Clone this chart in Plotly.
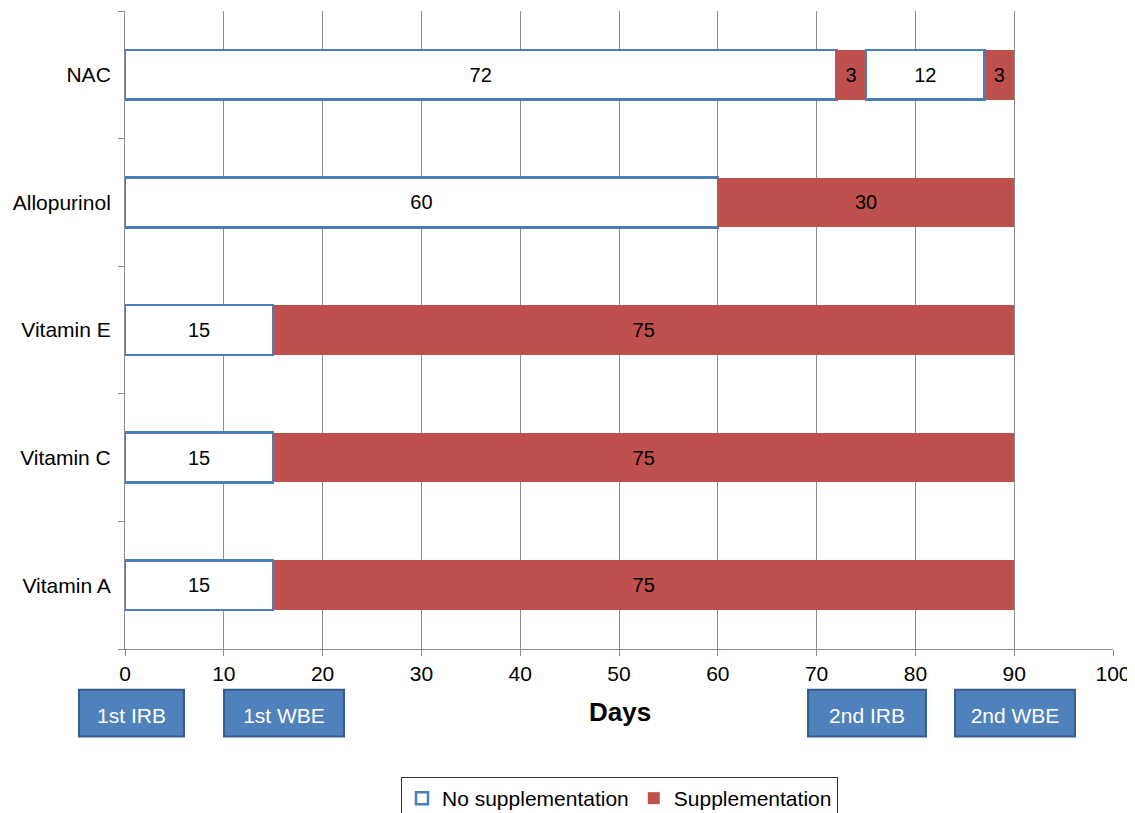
import plotly.graph_objects as go

categories = ["Vitamin A", "Vitamin C", "Vitamin E", "Allopurinol", "NAC"]
no_supp_1 = [15, 15, 15, 60, 72]
supp_1 = [75, 75, 75, 30, 3]
no_supp_2 = [None, None, None, None, 12]
supp_2 = [None, None, None, None, 3]
x_ticks = [0, 10, 20, 30, 40, 50, 60, 70, 80, 90, 100]
event_labels = ["1st IRB", "1st WBE", "2nd IRB", "2nd WBE"]

# box extents of the event labels under the axis (paper fractions)
event_x0 = [-0.0466, 0.1002, 0.6913, 0.8401]
event_x1 = [0.0597, 0.2217, 0.8107, 0.9615]

BLUE = "#4A7EBB"
RED = "#C0504D"
FONT = "Liberation Sans, Arial, sans-serif"
GRID = "#8C8C8C"


def labels(vals):
    return ["" if v is None else str(v) for v in vals]


fig = go.Figure()
series = [
    ("No supplementation", no_supp_1, "white", BLUE, 2.5, True),
    ("Supplementation", supp_1, RED, RED, 0, True),
    ("No supplementation", no_supp_2, "white", BLUE, 2.5, False),
    ("Supplementation", supp_2, RED, RED, 0, False),
]
for name, vals, fill, line, lw, show in series:
    fig.add_trace(go.Bar(
        y=categories, x=vals, orientation="h", name=name,
        legendgroup=name, showlegend=show,
        marker=dict(color=fill, line=dict(color=line, width=lw)),
        text=labels(vals), textposition="inside", insidetextanchor="middle",
        textangle=0, constraintext="none",
        insidetextfont=dict(color="black", size=20, family=FONT),
        hoverinfo="x+y",
    ))

shapes = []
for lab, x0, x1 in zip(event_labels, event_x0, event_x1):
    shapes.append(dict(
        type="rect", xref="paper", yref="paper", x0=x0, x1=x1,
        y0=-0.137, y1=-0.064, fillcolor="#4F81BD",
        line=dict(color="#385D8A", width=2),
        label=dict(text=lab, font=dict(color="white", size=21, family=FONT)),
    ))

fig.update_layout(
    width=1127, height=805,
    margin=dict(l=117, r=22, t=3, b=164),
    paper_bgcolor="white", plot_bgcolor="white",
    barmode="stack", bargap=0.61,
    font=dict(family=FONT, size=21, color="black"),
    shapes=shapes,
    xaxis=dict(range=[0, 100], tickvals=x_ticks, showgrid=True,
               gridcolor=GRID, gridwidth=1, zeroline=False,
               showline=True, linecolor=GRID, linewidth=1,
               ticks="outside", ticklen=6, tickcolor=GRID,
               tickfont=dict(size=21, family=FONT)),
    yaxis=dict(range=[-0.5, 4.5], showgrid=False, zeroline=False,
               showline=True, linecolor=GRID, linewidth=1,
               ticks="outside", tickson="boundaries", ticklen=6,
               tickcolor=GRID, ticklabelstandoff=9,
               tickfont=dict(size=21, family=FONT)),
    legend=dict(orientation="h", x=0.5005, xanchor="center",
                yref="container", y=0.0447, yanchor="top",
                bordercolor="#333333", borderwidth=1,
                font=dict(size=21, family=FONT), traceorder="normal"),
    annotations=[dict(text="<b>Days</b>", xref="paper", yref="paper",
                      x=0.501, y=-0.099, yanchor="middle", showarrow=False,
                      font=dict(size=26, family=FONT))],
)

fig.write_html("out.html")
